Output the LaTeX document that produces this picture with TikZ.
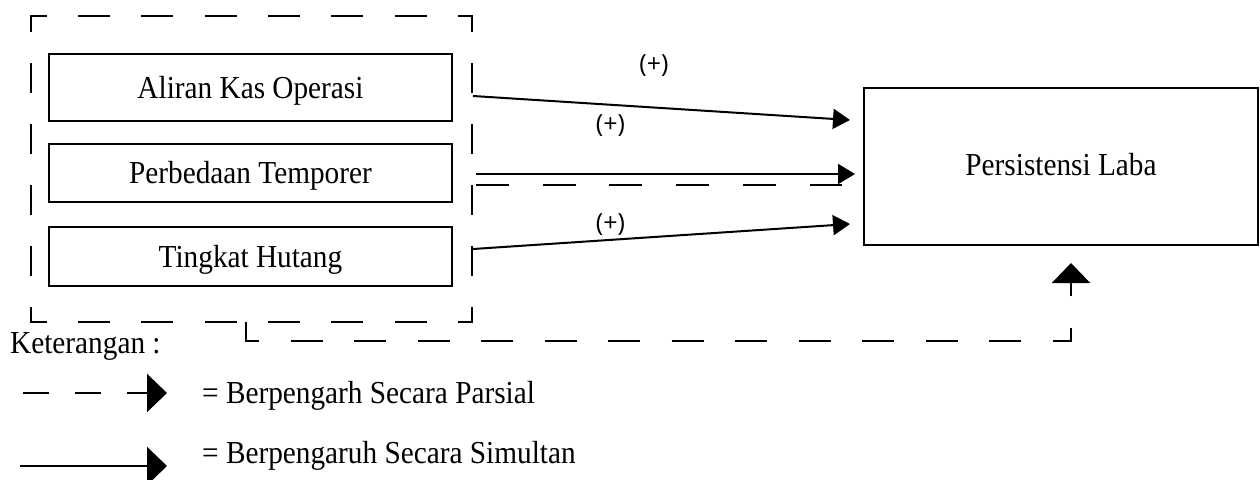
\documentclass[tikz,border=0pt]{standalone}
\usepackage{fontspec}
\setmainfont{Liberation Serif}[FakeStretch=0.915]
\newfontfamily\plusfont{Open Sans}
\usetikzlibrary{arrows.meta}
\begin{document}
\begin{tikzpicture}[x=1pt,y=-1pt,
  varbox/.style={draw, line width=2.4pt, inner sep=0pt, outer sep=0pt,
    minimum width=403pt, text height=28pt, text depth=7pt,
    font=\fontsize{32}{36}\selectfont},
  resbox/.style={draw, line width=2.3pt, inner sep=0pt, outer sep=0pt,
    minimum width=394pt, minimum height=157pt, text height=25pt, text depth=7pt,
    font=\fontsize{32}{36}\selectfont},
  plus/.style={inner sep=0pt, font=\plusfont\fontsize{25}{28}\selectfont},
  txt/.style={inner sep=0pt, anchor=base west, font=\fontsize{32}{36}\selectfont},
  hside/.style={line width=2.5pt, line cap=rect, dash pattern=on 29.5pt off 33.8pt, dash phase=15pt},
  vside/.style={line width=2.5pt, line cap=rect, dash pattern=on 27.5pt off 33.5pt, dash phase=13pt},
  dpath/.style={line width=2.5pt, dash pattern=on 32pt off 31.5pt, line join=miter},
  dline/.style={line width=2.5pt, dash pattern=on 33pt off 33.7pt},
  arr/.style={line width=2pt, -{Triangle[length=17pt,width=20pt]}},
  bigtip/.style={-{Triangle[length=20pt,width=38pt]}}
]
\useasboundingbox (0,0) rectangle (1260,479);

% variable boxes
\node[varbox, minimum height=67pt] (a1) at (250.5,87.5) {Aliran Kas Operasi};
\node[varbox, minimum height=58pt] (a2) at (250.5,173) {Perbedaan Temporer};
\node[varbox, minimum height=59pt] (a3) at (250.5,256.5) {Tingkat Hutang};

% dashed group
\node[inner sep=0pt, outer sep=0pt, minimum width=441pt, minimum height=306pt] (grp) at (251.5,169) {};
\draw[hside] (grp.north west) -- (grp.north east);
\draw[hside] (grp.south west) -- (grp.south east);
\draw[vside] (grp.north west) -- (grp.south west);
\draw[vside] (grp.north east) -- (grp.south east);

% dependent box
\node[resbox] (pl) at (1061,166.5) {Persistensi Laba};

% connector end points
\coordinate (s1) at (473,96);
\coordinate (e1) at (850,120);
\coordinate (s2) at (476,174);
\coordinate (e2) at (855,174);
\coordinate (s3) at (473,249);
\coordinate (e3) at (850,224);
\coordinate (h0) at (476,185);
\coordinate (h1) at (842,185);
\coordinate (b0) at (246,322);
\coordinate (b1) at (1071,263);

\draw[arr] (s1) -- (e1);
\draw[arr] (s2) -- (e2);
\draw[arr] (s3) -- (e3);
\draw[dline] (h0) -- (h1);
\draw[dpath, bigtip] (b0) -- ++(0,19) -| (b1);

% labels
\node[plus] (p1) at (654,65.5) {(+)};
\node[plus] (p2) at (610.5,126) {(+)};
\node[plus] (p3) at (610.5,224.5) {(+)};

% legend
\node[txt] (ket) at (10,353) {Keterangan :};
\coordinate (l1a) at (23,393);
\coordinate (l1b) at (167,393);
\coordinate (l2a) at (20,466);
\coordinate (l2b) at (167,466);
\draw[line width=2.5pt, dash pattern=on 26pt off 26pt, bigtip] (l1a) -- (l1b);
\draw[line width=2.5pt, bigtip] (l2a) -- (l2b);
\node[txt] (t1) at (202,403) {= Berpengarh Secara Parsial};
\node[txt] (t2) at (202,463) {= Berpengaruh Secara Simultan};
\end{tikzpicture}
\end{document}
